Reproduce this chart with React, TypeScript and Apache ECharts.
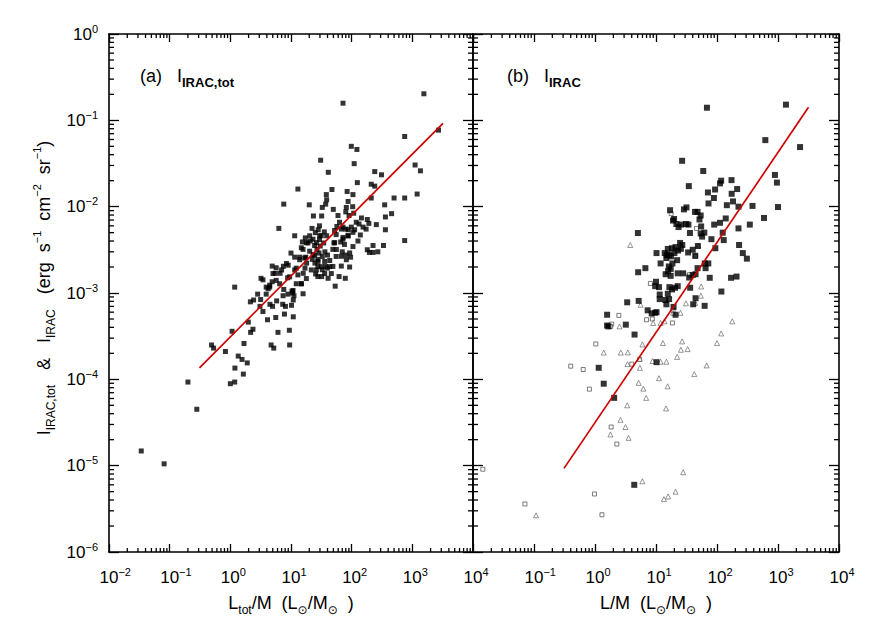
import React, { useEffect, useRef } from 'react';
import * as echarts from 'echarts';

const FONT = '"Liberation Sans", "DejaVu Sans", Arial, sans-serif';

// Panel (a): I_IRAC,tot vs Ltot/M
const leftPoints: number[][] = [
  [0.034,1.48e-5],[0.081,1.05e-5],[0.20,9.3e-5],[0.28,4.5e-5],[0.49,2.5e-4],[0.53,2.3e-4],[0.83,2.1e-4],[1.0,8.9e-5],
  [1.18,9.3e-5],[1.19,1.35e-4],[1.07,3.6e-4],[1.18,1.17e-3],[1.35,1.86e-4],[1.56,1.7e-4],[1.64,1.15e-4],[1.68,2.6e-4],
  [1.9,1.55e-4],[1.98,4.6e-4],[2.16,3.5e-4],[2.36,3.8e-4],[2.14,7.9e-4],[2.42,8.3e-4],[2.82,9.7e-4],[3.16,8.4e-4],
  [3.08,7.0e-4],[3.45,6.1e-4],[4.1,4.9e-4],[4.5,7.4e-4],[4.7,2.5e-4],[5.2,2.3e-4],[4.97,7.0e-4],[5.6,5.2e-4],
  [6.1,3.5e-4],[5.8,8.1e-4],[7.3,7.4e-4],[7.8,5.7e-4],[8.1,7.0e-4],[9.4,3.7e-4],[9.5,2.5e-4],[10.9,5.3e-4],
  [10.9,8.3e-4],[10.2,7.2e-4],[3.2,1.48e-3],[3.45,1.42e-3],[3.9,1.17e-3],[4.2,1.12e-3],[4.45,1.23e-3],[4.9,1.35e-3],
  [4.9,2.05e-3],[5.5,1.69e-3],[5.7,1.96e-3],[6.6,1.69e-3],[7.0,1.85e-3],[7.5,2.04e-3],[7.6,1.1e-3],[8.4,2.2e-3],
  [8.8,1.5e-3],[9.0,2.1e-3],[10.0,2.9e-3],[10.6,1.0e-3],[11.2,9.3e-4],[10.4,1.05e-3],[11.5,4.6e-3],[11.5,2.6e-3],
  [12.2,1.94e-3],[13.0,1.62e-3],[13.9,2.6e-3],[15.8,9.8e-4],[14.8,1.28e-3],[15.9,1.69e-3],[17.0,1.94e-3],[18.1,2.22e-3],
  [17.5,2.6e-3],[15.8,3.2e-3],[15.4,3.9e-3],[17.2,4.35e-3],[19.0,3.8e-3],[20.8,4.0e-3],[20.3,4.6e-3],[22.2,5.6e-3],
  [23.4,7.8e-3],[20.0,1.05e-2],[7.6,1.07e-2],[6.3,5.6e-3],[13.0,1.6e-2],[30.8,3.45e-2],[41.2,2.5e-2],[47.3,1.58e-2],
  [38.2,1.38e-2],[38.7,1.2e-2],[37.3,1.07e-2],[32.8,9.8e-3],[32.0,7.8e-3],[29.5,6.0e-3],[28.1,5.4e-3],[25.2,5.0e-3],
  [23.0,4.2e-3],[24.5,3.55e-3],[26.8,3.2e-3],[29.5,4.15e-3],[31.6,4.6e-3],[35.4,5.1e-3],[38.7,4.6e-3],[34.6,3.8e-3],
  [30.3,3.5e-3],[29.0,2.9e-3],[24.5,2.75e-3],[22.4,2.45e-3],[24.8,2.22e-3],[27.7,2.45e-3],[32.8,2.65e-3],[36.2,3.0e-3],
  [40.0,2.75e-3],[43.5,2.38e-3],[37.3,2.03e-3],[32.8,1.86e-3],[27.7,2.03e-3],[25.5,1.66e-3],[27.7,1.55e-3],[32,1.55e-3],
  [40.9,1.48e-3],[39.8,1.94e-3],[49,2.03e-3],[55.5,2.65e-3],[49,3.2e-3],[51,3.8e-3],[55.5,4.75e-3],[52.3,5.3e-3],
  [57.1,5.9e-3],[63,6.6e-3],[59.5,7.9e-3],[49.8,9.3e-3],[81.6,9.8e-3],[87.4,1.15e-2],[80,8.7e-3],[84.2,1.5e-2],
  [105,1.38e-2],[110,3.15e-2],[98.6,5.0e-2],[122,4.6e-2],[124,1.9e-2],[72,0.158],[104,1.0e-2],[108,8.4e-3],
  [90.5,7.9e-3],[80,5.5e-3],[72,5.8e-3],[87.4,5.4e-3],[98.6,5.8e-3],[112,5.4e-3],[87.4,4.6e-3],[72,4.4e-3],
  [66,3.9e-3],[76,3.65e-3],[70,3.0e-3],[80,2.75e-3],[105,3.45e-3],[96,2.6e-3],[67.5,2.05e-3],[62,1.55e-3],
  [78.5,1.48e-3],[92.5,2.0e-3],[53.5,1.2e-3],[119,6.6e-3],[132,6.3e-3],[145,7.4e-3],[139,4.7e-3],[173,5.5e-3],
  [181,7.1e-3],[192,6.4e-3],[255,6.2e-3],[210,1.82e-2],[240,1.73e-2],[210,1.26e-2],[240,2.55e-2],[310,2.34e-2],
  [350,1.05e-2],[360,7.6e-3],[455,8.3e-3],[500,1.26e-2],[360,5.4e-3],[335,3.55e-3],[270,3.0e-3],[225,3.55e-3],
  [181,3.17e-3],[196,2.95e-3],[225,2.95e-3],[748,6.5e-2],[748,1.26e-2],[748,4.05e-3],[1110,3.04e-2],[1360,2.6e-2],
  [1200,1.4e-2],[1550,0.203],[2700,7.7e-2],
  [14.8,3.34e-3],[17.9,3.83e-3],[20.3,3.05e-3],[23.1,2.78e-3],[27.9,2.32e-3],[31.6,2.02e-3],[35.9,2.32e-3],[43.4,2.02e-3],
  [46.2,1.68e-3],[35.9,1.68e-3],[26.2,1.85e-3],[21.6,1.85e-3],[17.9,1.47e-3],[14.8,1.28e-3],[12.2,1.28e-3],[10.8,1.07e-3],
  [8.9,9.7e-4],[7.4,9.3e-4],[6.5,1.28e-3],[5.7,1.4e-3],[5.05,1.68e-3],[4.45,1.17e-3],[3.9,9.7e-4],[9.5,1.54e-3],
  [11.5,1.85e-3],[13.9,2.43e-3],[16.8,2.54e-3],[26.2,3.83e-3],[29.7,4.6e-3],[52.5,3.83e-3],[55.9,3.19e-3],[67.6,2.66e-3],
  [81.7,2.43e-3],[92.7,2.91e-3],[72,4.2e-3],[87,4.6e-3],[105,5.04e-3],[127,4.0e-3],[154,5.8e-3],[67.6,5.5e-3]
];
const leftFit: number[][] = [[0.31, 1.36e-4], [3200, 0.092]];

// Panel (b): I_IRAC vs L/M
const rightFilled: number[][] = [
  [68.4,0.14],[1350,0.152],[620,5.9e-2],[2300,4.9e-2],[26.8,3.4e-2],[59.5,2.59e-2],[34.5,1.73e-2],[117,2.0e-2],
  [173,2.03e-2],[112,1.86e-2],[214,1.6e-2],[71,1.46e-2],[93,1.58e-2],[89,1.26e-2],[174,1.41e-2],[183,1.15e-2],
  [72.6,1.09e-2],[145,1.04e-2],[225,1.0e-2],[382,1.02e-2],[890,2.33e-2],[960,1.9e-2],[1000,9.9e-3],[590,7.4e-3],
  [345,6.2e-3],[139,7.3e-3],[225,5.6e-3],[112,6.5e-3],[90,6.2e-3],[124,5.0e-3],[129,4.1e-3],[94,3.3e-3],
  [81,4.2e-3],[230,3.6e-3],[265,2.9e-3],[309,2.5e-3],[170,1.5e-3],[209,1.55e-3],[118,1.04e-3],[76,1.5e-3],
  [62.7,7.1e-4],[40.7,7.4e-4],[44.5,8.7e-4],[36.3,1.15e-3],[40,1.62e-3],[44.5,1.65e-3],[48,1.94e-3],[65,1.94e-3],
  [72,2.2e-3],[63,2.2e-3],[44,2.7e-3],[33.6,2.95e-3],[40,3.17e-3],[48.6,3.5e-3],[57,4.5e-3],[54,4.9e-3],
  [62,5.0e-3],[55,5.9e-3],[51.6,7.1e-3],[43.5,8.7e-3],[48,8.7e-3],[54,7.9e-3],[31.6,9.8e-3],[28.7,9.3e-3],
  [31,6.3e-3],[34,6.2e-3],[36,4.95e-3],[25.9,6.2e-3],[21.6,6.3e-3],[19,6.9e-3],[17,9.1e-3],[19.8,7.2e-3],
  [23.4,5.8e-3],[24.8,3.8e-3],[27,3.6e-3],[25.6,3.25e-3],[23,3.1e-3],[20.9,3.4e-3],[18.3,3.3e-3],[16.3,2.76e-3],
  [17.6,2.66e-3],[20,2.9e-3],[22.2,2.4e-3],[18.6,2.2e-3],[17.4,1.9e-3],[15.8,1.78e-3],[14.4,1.65e-3],[17.4,1.58e-3],
  [22.7,1.69e-3],[27.9,1.69e-3],[35,1.51e-3],[16.6,1.17e-3],[20.5,1.15e-3],[18.3,1.1e-3],[22.7,1.2e-3],[11.5,9.6e-4],
  [11.5,8.5e-4],[15.6,9.8e-4],[14.8,7.4e-4],[14.2,8.3e-4],[16.4,8.5e-4],[11.2,1.17e-3],[10,1.35e-3],[9.7,1.2e-3],
  [11.9,2.2e-3],[10.2,2.9e-3],[15,2.75e-3],[16.2,2.03e-3],[13.9,2.9e-3],[14.8,2.54e-3],[15.6,3.24e-3],[6.7,1.94e-3],
  [5.1,1.74e-3],[5.05,4.95e-3],[3.37,7.8e-4],[5.2,8.1e-4],[7.3,6.3e-4],[8.5,5.8e-4],[9.7,5.9e-4],[10.2,6.0e-4],
  [19.4,6.9e-4],[20.9,5.6e-4],[1.58,5.6e-4],[1.58,4.2e-4],[1.66,4.1e-4],[3.2,4.3e-4],[4.45,3.3e-4],[1.15,1.36e-4],
  [1.39,8.9e-5],[2.06,6.1e-5],[10.2,1.58e-4],[4.4,6.0e-6]
];
const rightOpenSquares: number[][] = [
  [0.0145,9.1e-6],[0.071,3.6e-6],[0.98,4.7e-6],[1.3,2.7e-6],[0.40,1.42e-4],[0.64,1.3e-4],[0.81,7.7e-5],[1.03,2.57e-4],
  [1.84,2.8e-5],[2.28,1.78e-5],[1.88,4.36e-4],[1.8,4.1e-4],[2.46,5.5e-4],[8.1,1.29e-3],[7.0,4.9e-4],[8.7,5.0e-4],
  [18.6,4.5e-4],[5.4,1.7e-4],[4.0,1.5e-4],[17.7,8.3e-3],[44.5,2.66e-3],[35.4,1.63e-3],[19,6.3e-4],[46,5.6e-3]
];
const rightTriangles: number[][] = [
  [0.108,2.66e-6],[3.78,3.6e-3],[13.5,4.1e-6],[15.8,4.4e-6],[20.9,5.0e-6],[27.9,8.4e-6],[5.96,6.6e-6],[1.79,2.3e-5],
  [2.62,3.4e-5],[3.16,2.8e-5],[3.55,2.1e-5],[3.37,5.0e-5],[6.9,6.1e-5],[5.2,9.1e-5],[6.2,7.8e-5],[14.6,4.6e-5],
  [15.5,8.3e-5],[11.2,1.03e-4],[42.4,1.15e-4],[67.6,1.45e-4],[1.39,2.04e-4],[2.65,2.04e-4],[3.45,2.05e-4],[3.41,1.5e-4],
  [5.45,1.36e-4],[8.8,1.63e-4],[11.9,1.6e-4],[14.8,1.6e-4],[5.4,1.73e-4],[6.0,2.54e-4],[13,2.63e-4],[13.8,4.7e-4],
  [11.9,4.5e-4],[9.0,4.5e-4],[2.52,4.1e-4],[22.2,1.82e-4],[25.6,2.2e-4],[33,2.24e-4],[26.8,2.75e-4],[100,2.63e-4],
  [117,3.4e-4],[178,4.7e-4],[5.6,7.3e-4],[19,5.9e-4],[25.2,5.9e-4],[31,7.6e-4],[44,7.7e-4],[55,1.19e-3],
  [49,3.55e-3],[54.5,9.3e-4]
];
const rightFit: number[][] = [[0.31, 9.3e-6], [3160, 0.1415]];

// Axes
const X_MIN = 0.01, X_MAX = 10000;
const Y_MIN = 1e-6, Y_MAX = 1;
const X_DECADES = [-2, -1, 0, 1, 2, 3];
const Y_DECADES = [-6, -5, -4, -3, -2, -1];
const MINOR_STEPS = [2, 3, 4, 5, 6, 7, 8, 9];

const X_MAJOR_LEN = 8, X_MINOR_LEN = 4, Y_MAJOR_LEN = 10, Y_MINOR_LEN = 5;
const TICK_W = 1.3;

const expText = (v: number) => {
  const e = Math.round(Math.log10(v));
  return e < 0 ? '\u2212' + Math.abs(e) : String(e);
};
// x labels: a blank spacer as wide as the exponent keeps "10" centred on its tick
const xLabel = (v: number) => {
  const s = expText(v);
  return `{${s.length > 1 ? 'h2' : 'h1'}| }{b|10}{s|${s}}`;
};
const yLabel = (v: number) => `{b|10}{s|${expText(v)}}`;

const labelRich = {
  b: { fontSize: 17, fontFamily: FONT, color: '#000', lineHeight: 22 },
  s: { fontSize: 11, fontFamily: FONT, color: '#000', verticalAlign: 'top', lineHeight: 12 },
  h1: { fontSize: 11, fontFamily: FONT, width: 6, lineHeight: 12 },
  h2: { fontSize: 11, fontFamily: FONT, width: 12.5, lineHeight: 12 },
};

const titleRich = {
  n: { fontSize: 18, fontFamily: FONT, color: '#000', lineHeight: 26 },
  sub: { fontSize: 12, fontFamily: FONT, color: '#000', verticalAlign: 'bottom', lineHeight: 15 },
  subb: { fontSize: 13, fontFamily: FONT, fontWeight: 'bold', color: '#000', verticalAlign: 'bottom', lineHeight: 16 },
  sup: { fontSize: 11, fontFamily: FONT, color: '#000', verticalAlign: 'top', lineHeight: 14 },
};

function xAxis(gridIndex: number, position: string, showLabels: boolean, showMin: boolean) {
  return {
    type: 'log', logBase: 10, gridIndex, position, min: X_MIN, max: X_MAX, splitNumber: 6,
    axisLine: { show: true, onZero: false, lineStyle: { color: '#000', width: 1.6 } },
    axisTick: { show: true, inside: true, length: X_MAJOR_LEN, lineStyle: { color: '#000', width: TICK_W } },
    axisLabel: { show: showLabels, showMinLabel: showMin, showMaxLabel: true, margin: 14, formatter: xLabel, rich: labelRich },
    splitLine: { show: false },
    minorTick: { show: false },
  };
}

function yAxis(gridIndex: number, position: string, showLabels: boolean) {
  return {
    type: 'log', logBase: 10, gridIndex, position, min: Y_MIN, max: Y_MAX, splitNumber: 6,
    axisLine: { show: true, onZero: false, lineStyle: { color: '#000', width: 1.6 } },
    axisTick: { show: true, inside: true, length: Y_MAJOR_LEN, lineStyle: { color: '#000', width: TICK_W } },
    axisLabel: { show: showLabels, margin: 11, formatter: yLabel, rich: labelRich },
    splitLine: { show: false },
    minorTick: { show: false },
  };
}

const textElements: any[] = [
  { type: 'text', x: 140, y: 76, style: { text: '{n|(a)   I}{subb|IRAC,tot}', rich: titleRich, align: 'left', verticalAlign: 'middle' } },
  { type: 'text', x: 507, y: 76, style: { text: '{n|(b)   I}{subb|IRAC}', rich: titleRich, align: 'left', verticalAlign: 'middle' } },
  { type: 'text', x: 291, y: 603, style: { text: '{n|L}{sub|tot}{n|/M  (L}{sub|\u2299}{n|/M}{sub|\u2299}{n|  )}', rich: titleRich, align: 'center', verticalAlign: 'middle' } },
  { type: 'text', x: 656, y: 603, style: { text: '{n|L/M  (L}{sub|\u2299}{n|/M}{sub|\u2299}{n|  )}', rich: titleRich, align: 'center', verticalAlign: 'middle' } },
  { type: 'text', x: 44, y: 288, rotation: Math.PI / 2,
    style: { text: '{n|I}{sub|IRAC,tot}{n|   &   I}{sub|IRAC}{n|   (erg  s}{sup|\u22121}{n|  cm}{sup|\u22122}{n|  sr}{sup|\u22121}{n|)}',
      rich: titleRich, align: 'center', verticalAlign: 'middle' } },
];

// minor tick marks: positions obtained from the axes' scales after the first layout
function buildTicks(chart: any): any[] {
  const out: any[] = [];
  const st = { stroke: '#000', lineWidth: TICK_W };
  [0, 1].forEach((gi) => {
    const toPx = (x: number, y: number) => chart.convertToPixel({ gridIndex: gi }, [x, y]);
    const tl = toPx(X_MIN, Y_MAX);
    const br = toPx(X_MAX, Y_MIN);
    if (!tl || !br) return;
    const xTick = (v: number, len: number) => {
      const px = toPx(v, 1e-3)[0];
      out.push({ type: 'line', silent: true, z: 50, shape: { x1: px, y1: br[1], x2: px, y2: br[1] - len }, style: st });
      out.push({ type: 'line', silent: true, z: 50, shape: { x1: px, y1: tl[1], x2: px, y2: tl[1] + len }, style: st });
    };
    const yTick = (v: number, len: number) => {
      const py = toPx(1, v)[1];
      out.push({ type: 'line', silent: true, z: 50, shape: { x1: tl[0], y1: py, x2: tl[0] + len, y2: py }, style: st });
      out.push({ type: 'line', silent: true, z: 50, shape: { x1: br[0], y1: py, x2: br[0] - len, y2: py }, style: st });
    };
    X_DECADES.forEach((d) => MINOR_STEPS.forEach((k) => xTick(k * Math.pow(10, d), X_MINOR_LEN)));
    Y_DECADES.forEach((d) => MINOR_STEPS.forEach((k) => yTick(k * Math.pow(10, d), Y_MINOR_LEN)));
  });
  return out;
}

export default function App() {
  const ref = useRef<HTMLDivElement>(null);
  useEffect(() => {
    if (!ref.current) return;
    const chart = echarts.init(ref.current, undefined, { renderer: 'svg' });
    const option: any = {
      animation: false,
      backgroundColor: '#fff',
      grid: [
        { left: 109, top: 34, width: 364, height: 518, show: false },
        { left: 473, top: 34, width: 366, height: 518, show: false },
      ],
      xAxis: [
        xAxis(0, 'bottom', true, true),
        xAxis(0, 'top', false, true),
        xAxis(1, 'bottom', true, false),
        xAxis(1, 'top', false, true),
      ],
      yAxis: [
        yAxis(0, 'left', true),
        yAxis(0, 'right', false),
        yAxis(1, 'left', false),
        yAxis(1, 'right', false),
      ],
      series: [
        { type: 'scatter', name: 'IRAC,tot', xAxisIndex: 0, yAxisIndex: 0, data: leftPoints, symbol: 'rect',
          symbolSize: 5, itemStyle: { color: '#000' }, z: 3 },
        { type: 'line', name: 'fitA', xAxisIndex: 0, yAxisIndex: 0, data: leftFit, showSymbol: false,
          lineStyle: { color: '#cc0000', width: 1.7 }, z: 4 },
        { type: 'scatter', name: 'openSq', xAxisIndex: 2, yAxisIndex: 2, data: rightOpenSquares, symbol: 'rect',
          symbolSize: 4, itemStyle: { color: '#fff', borderColor: '#333', borderWidth: 0.8 }, z: 3 },
        { type: 'scatter', name: 'tri', xAxisIndex: 2, yAxisIndex: 2, data: rightTriangles, symbol: 'triangle',
          symbolSize: 5, itemStyle: { color: '#fff', borderColor: '#444', borderWidth: 0.7 }, z: 3 },
        { type: 'scatter', name: 'IRAC', xAxisIndex: 2, yAxisIndex: 2, data: rightFilled, symbol: 'rect',
          symbolSize: 6, itemStyle: { color: '#000' }, z: 3 },
        { type: 'line', name: 'fitB', xAxisIndex: 2, yAxisIndex: 2, data: rightFit, showSymbol: false,
          lineStyle: { color: '#cc0000', width: 1.7 }, z: 4 },
      ],
      graphic: { elements: textElements },
    };
    chart.setOption(option);
    try {
      const ticks = buildTicks(chart);
      chart.setOption({ graphic: { elements: [...textElements, ...ticks] } });
    } catch (e) {
      // keep the chart as drawn if the scale lookup is unavailable
    }
    return () => chart.dispose();
  }, []);
  return <div ref={ref} style={{ position: 'absolute', left: 0, top: 0, width: 872, height: 623 }} />;
}
